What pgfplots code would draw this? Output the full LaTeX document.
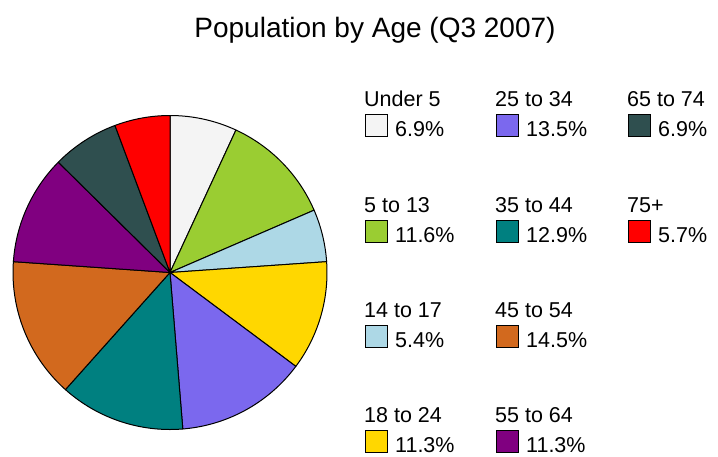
\documentclass[border=0pt]{standalone}
\usepackage{pgfplots}
\pgfplotsset{compat=1.18}
\usepackage{fontspec}
\setmainfont{Liberation Sans}
\definecolor{cWhitesmoke}{HTML}{F4F4F4}
\definecolor{cYellowgreen}{HTML}{9ACD32}
\definecolor{cLightblue}{HTML}{ADD8E6}
\definecolor{cGold}{HTML}{FFD700}
\definecolor{cSlate}{HTML}{7B68EE}
\definecolor{cTeal}{HTML}{008080}
\definecolor{cChoc}{HTML}{D2691E}
\definecolor{cPurple}{HTML}{800080}
\definecolor{cDarkslate}{HTML}{2F4F4F}
\definecolor{cRed}{HTML}{FF0000}
% pie data: value/colour, clockwise from 12 o'clock
\def\piedata{6.9/cWhitesmoke, 11.6/cYellowgreen, 5.4/cLightblue, 11.3/cGold, 13.5/cSlate, 12.9/cTeal, 14.5/cChoc, 11.3/cPurple, 6.9/cDarkslate, 5.7/cRed}
\newcommand\legfont{\fontsize{21.5}{25}\selectfont}
\newcommand\legitem[5]{% x, swatch top y, colour, label, pct
  \node[anchor=base west, inner sep=0pt, font=\legfont] at (#1pt-1pt,-#2pt+8pt) {#4};
  \draw[black, line width=1pt, fill=#3] (#1pt,-#2pt) rectangle ++(22pt,-22pt);
  \node[anchor=base west, inner sep=0pt, font=\legfont] at (#1pt+30pt,-#2pt-22pt) {#5};
}
\begin{document}
\begin{tikzpicture}
\path (0pt,0pt) rectangle (718pt,-456pt);
\node[anchor=base, inner sep=0pt, font=\fontsize{28}{33}\selectfont] at (375pt,-37pt) {Population by Age (Q3 2007)};
\begin{axis}[
  at={(170pt,-272.5pt)}, anchor=center,
  width=314pt, height=314pt, scale only axis,
  xmin=-1, xmax=1, ymin=-1, ymax=1,
  hide axis, clip=false,
]
\gdef\cum{0}
\foreach \v/\c in \piedata {
  \pgfmathsetmacro\angA{90-3.6*\cum}
  \pgfmathsetmacro\newcum{\cum+\v}
  \pgfmathsetmacro\angB{90-3.6*\newcum}
  \xdef\cum{\newcum}
  \edef\temp{\noexpand\addplot[fill=\c, draw=black, line width=1pt, line join=round, domain=\angB:\angA, samples=60] ({cos(x)},{sin(x)}) -- (axis cs:0,0) -- cycle;}
  \temp
}
\end{axis}
\legitem{365}{114}{cWhitesmoke}{Under 5}{6.9\%}
\legitem{365}{220}{cYellowgreen}{5 to 13}{11.6\%}
\legitem{365}{325}{cLightblue}{14 to 17}{5.4\%}
\legitem{365}{430.5}{cGold}{18 to 24}{11.3\%}
\legitem{496}{114}{cSlate}{25 to 34}{13.5\%}
\legitem{496}{220}{cTeal}{35 to 44}{12.9\%}
\legitem{496}{325}{cChoc}{45 to 54}{14.5\%}
\legitem{496}{430.5}{cPurple}{55 to 64}{11.3\%}
\legitem{628}{114}{cDarkslate}{65 to 74}{6.9\%}
\legitem{628}{220}{cRed}{75+}{5.7\%}
\end{tikzpicture}
\end{document}
